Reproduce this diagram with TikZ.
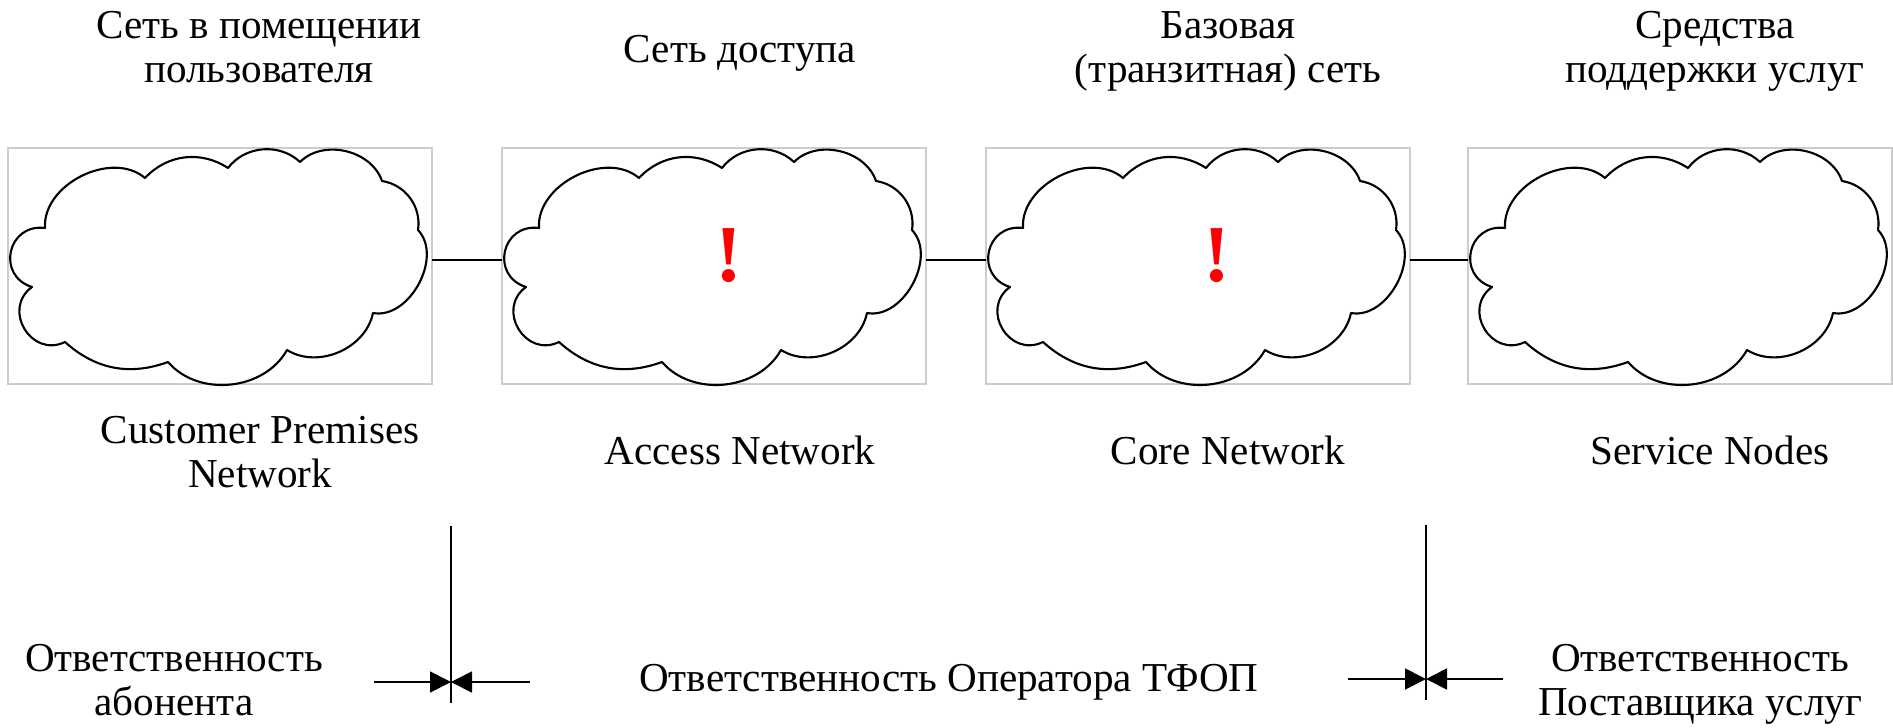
\documentclass[tikz,border=0pt]{standalone}
\usepackage{fontspec}
\setmainfont{Liberation Serif}
\usetikzlibrary{arrows.meta}

\begin{document}
\begin{tikzpicture}[
    txt/.style={font=\fontsize{11.7}{12.4}\selectfont, align=center, anchor=base, inner sep=0pt},
    excl/.style={font=\fontsize{23}{23}\selectfont\bfseries, text=red, inner sep=0pt},
    link/.style={line width=0.5pt},
    pointer/.style={line width=0.5pt, -{Triangle[length=2.1mm,width=2.1mm]}},
    netcloud/.pic={
      \draw[black!20, line width=0.3pt] (0,0) rectangle (4.24,-2.36);
      \draw[line width=0.6pt, line join=round]
        (0.37,-0.80) to[bend left=67] (1.37,-0.30) to[bend left=40] (2.20,-0.20)
        to[bend left=48] (2.92,-0.14) to[bend left=58] (3.74,-0.33)
        to[bend left=45] (4.10,-0.82) to[bend left=72] (3.65,-1.65)
        to[bend left=55] (2.79,-2.02) to[bend left=55] (1.60,-2.14)
        to[bend left=31] (0.57,-1.94) to[bend left=85, looseness=1.5] (0.24,-1.39)
        to[bend left=85, looseness=1.6] (0.37,-0.80) -- cycle;
      \coordinate (-w) at (0,-1.12);
      \coordinate (-e) at (4.24,-1.12);
    }]
  \useasboundingbox (0,0) rectangle (18.93,-7.27);

  \pic (cpn) at (0.08,-1.48) {netcloud};
  \pic (acc) at (5.02,-1.48) {netcloud};
  \pic (core) at (9.86,-1.48) {netcloud};
  \pic (srv) at (14.68,-1.48) {netcloud};

  \draw[link] (cpn-e) -- (acc-w);
  \draw[link] (acc-e) -- (core-w);
  \draw[link] (core-e) -- (srv-w);

  \node[excl] (accmark) at (7.29,-2.56) {!};
  \node[excl] (coremark) at (12.17,-2.56) {!};

  \node[txt] (cpntop) at (2.59,-0.82) {Сеть в помещении\\пользователя};
  \node[txt] (acctop) at (7.40,-0.62) {Сеть доступа};
  \node[txt] (coretop) at (12.28,-0.82) {Базовая\\(транзитная) сеть};
  \node[txt] (srvtop) at (17.15,-0.82) {Средства\\поддержки услуг};

  \node[txt] (cpnbot) at (2.60,-4.87) {Customer Premises\\Network};
  \node[txt] (accbot) at (7.40,-4.64) {Access Network};
  \node[txt] (corebot) at (12.28,-4.64) {Core Network};
  \node[txt] (srvbot) at (17.10,-4.64) {Service Nodes};

  \coordinate (lefttop) at (4.51,-5.26);
  \coordinate (leftbot) at (4.51,-7.03);
  \coordinate (leftin) at (3.74,-6.82);
  \coordinate (leftout) at (5.30,-6.82);
  \draw[link] (lefttop) -- (leftbot);
  \draw[pointer] (leftin) -- (lefttop |- leftin);
  \draw[pointer] (leftout) -- (lefttop |- leftout);

  \coordinate (righttop) at (14.26,-5.25);
  \coordinate (rightbot) at (14.26,-7.00);
  \coordinate (rightin) at (13.48,-6.79);
  \coordinate (rightout) at (15.03,-6.79);
  \draw[link] (righttop) -- (rightbot);
  \draw[pointer] (rightin) -- (righttop |- rightin);
  \draw[pointer] (rightout) -- (righttop |- rightout);

  \node[txt] (subscriber) at (1.74,-7.15) {Ответственность\\абонента};
  \node[txt] (operator) at (9.49,-6.91) {Ответственность Оператора ТФОП};
  \node[txt] (provider) at (17.00,-7.15) {Ответственность\\Поставщика услуг};
\end{tikzpicture}
\end{document}
